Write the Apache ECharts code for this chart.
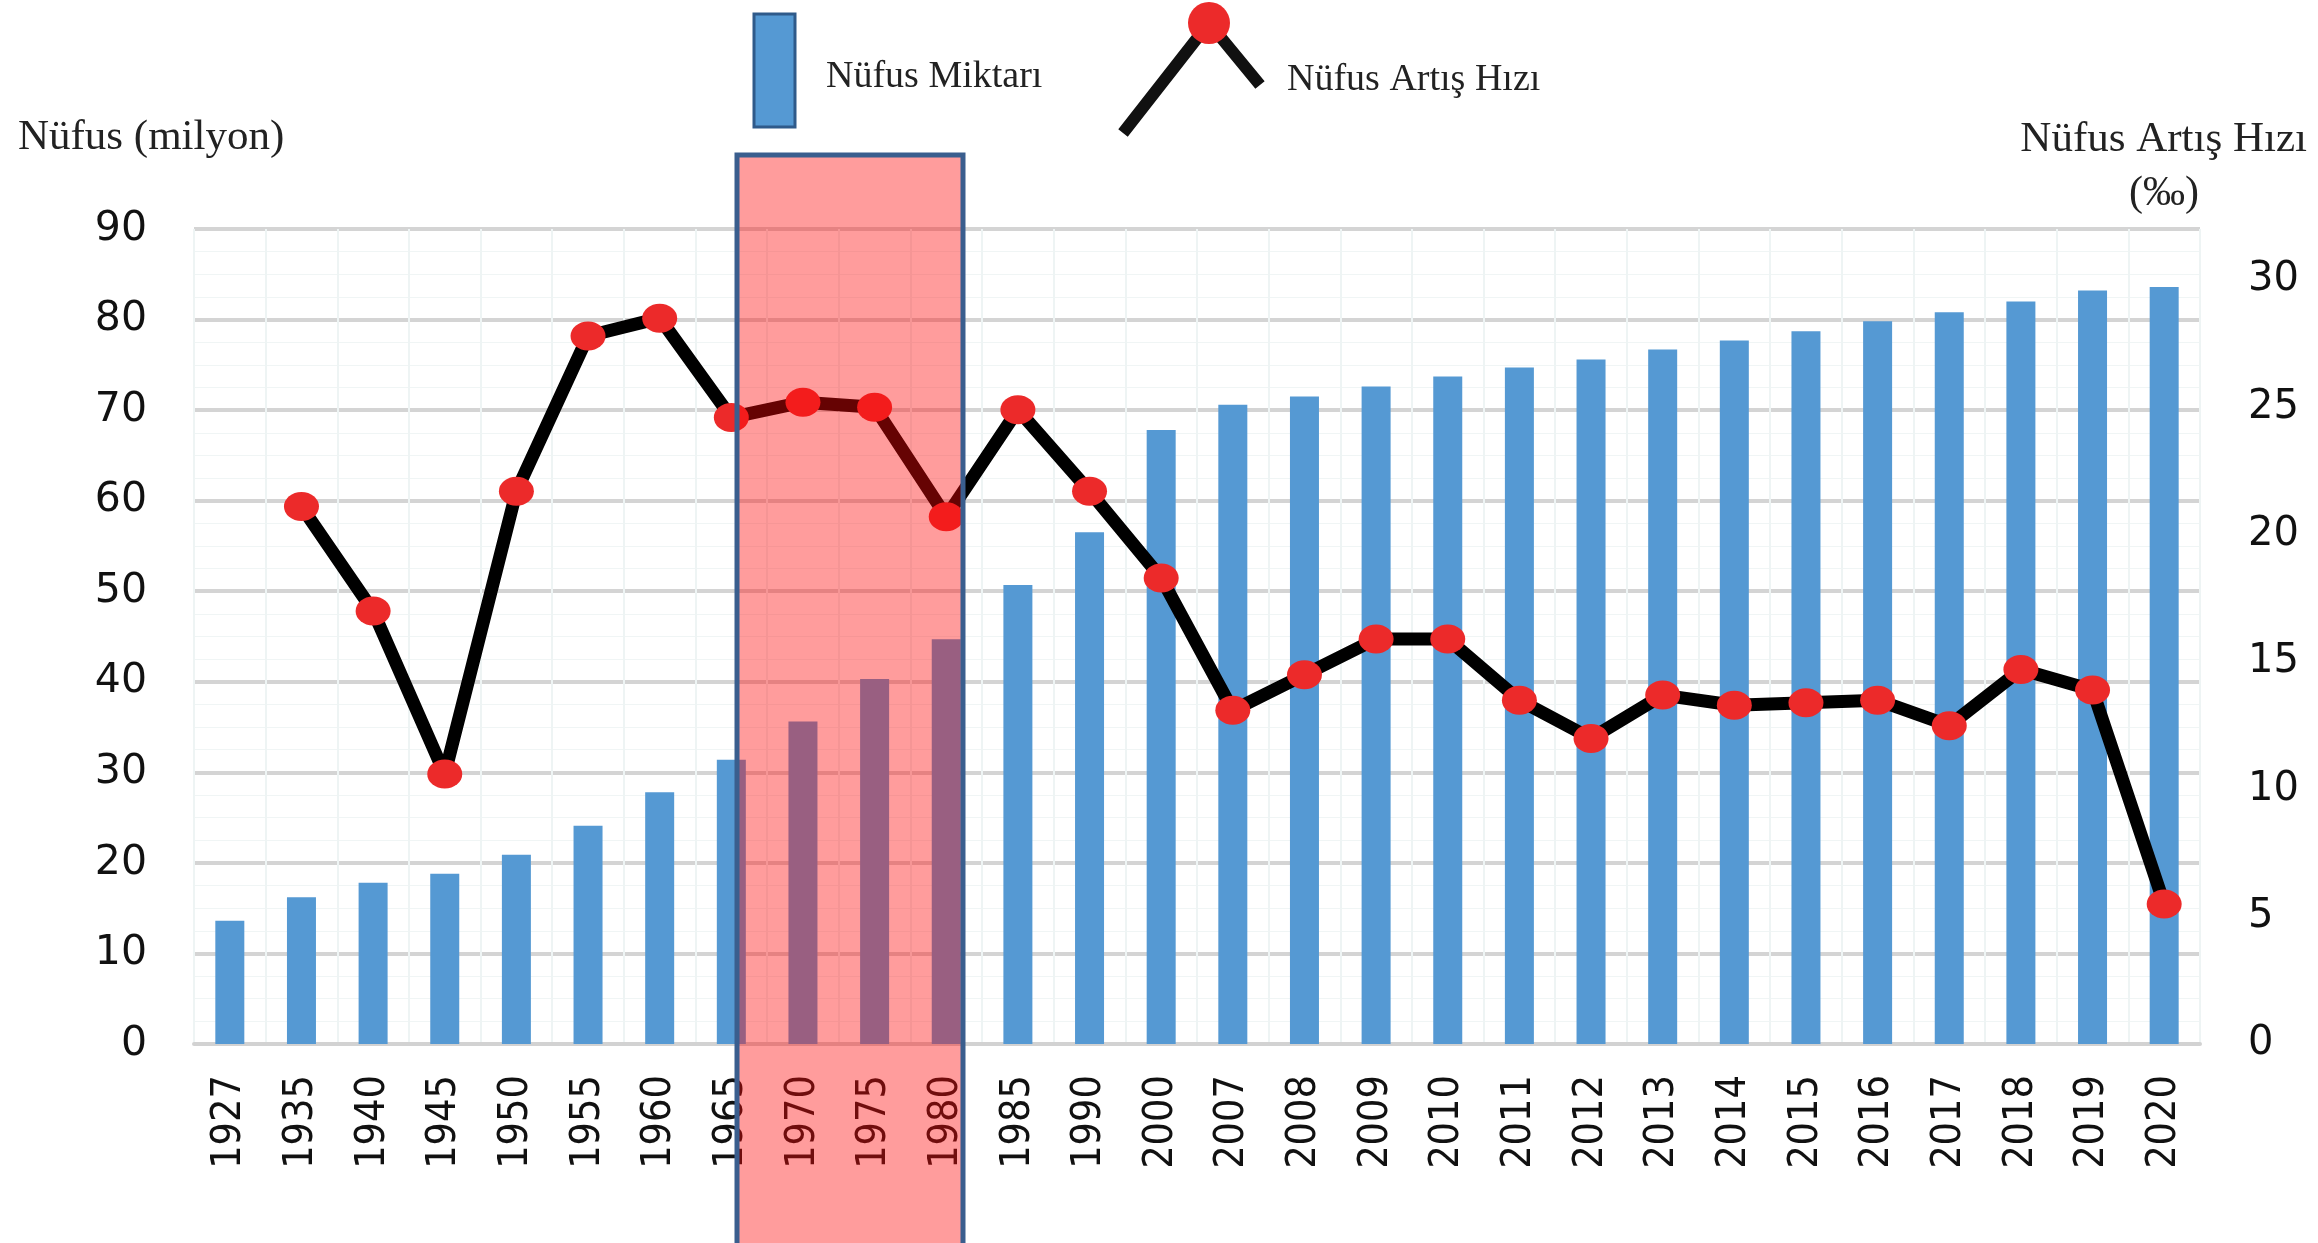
<!DOCTYPE html>
<html>
<head>
<meta charset="utf-8">
<script src="https://cdn.jsdelivr.net/npm/echarts@6/dist/echarts.min.js"></script>
<style>
  html, body { margin: 0; padding: 0; background: #fff; }
  #main { width: 2318px; height: 1243px; }
</style>
</head>
<body>
<div id="main"></div>
<script>
var myChart = echarts.init(document.getElementById('main'));

// yillar
const years = ['1927', '1935', '1940', '1945', '1950', '1955', '1960', '1965', '1970', '1975',
  '1980', '1985', '1990', '2000', '2007', '2008', '2009', '2010', '2011', '2012', '2013',
  '2014', '2015', '2016', '2017', '2018', '2019', '2020']
// nufus miktari (milyon)
const population = [13.6, 16.2, 17.8, 18.8, 20.9, 24.1, 27.8, 31.4, 35.6, 40.3,
  44.7, 50.7, 56.5, 67.8, 70.6, 71.5, 72.6, 73.7, 74.7, 75.6, 76.7,
  77.7, 78.7, 79.8, 80.8, 82.0, 83.2, 83.6]
// nufus artis hizi (binde)
const growthRate = [null, 21.1, 17.0, 10.6, 21.7, 27.8, 28.5, 24.6, 25.2, 25.0,
  20.7, 24.9, 21.7, 18.3, 13.1, 14.5, 15.9, 15.9, 13.5, 12.0, 13.7,
  13.3, 13.4, 13.5, 12.5, 14.7, 13.9, 5.5]

const serif = "'Liberation Serif', 'DejaVu Serif', serif"
const sans = "'DejaVu Sans', Verdana, sans-serif"
const narrow = "'DejaVu Sans Condensed', 'Liberation Sans Narrow', 'DejaVu Sans', sans-serif"

var option = {
    animation: false,
    backgroundColor: '#ffffff',
    grid: { left: 194, right: 118, top: 229, bottom: 199 },
    xAxis: {
        type: 'category',
        data: years,
        boundaryGap: true,
        axisLine: { lineStyle: { color: '#d2d2d2', width: 4 } },
        axisTick: { show: false },
        splitLine: { show: true, lineStyle: { color: '#eef4f4', width: 2 } },
        axisLabel: {
            rotate: 90, margin: 31, interval: 0,
            fontSize: 41, fontFamily: narrow, color: '#111'
        }
    },
    yAxis: [
        {
            type: 'value', min: 0, max: 90, interval: 10,
            axisLine: { show: false }, axisTick: { show: false },
            splitLine: { lineStyle: { color: '#d4d4d4', width: 4 } },
            minorTick: { show: false, splitNumber: 4 },
            minorSplitLine: { show: true, lineStyle: { color: '#f0f5f5', width: 1 } },
            axisLabel: { fontSize: 41, fontFamily: sans, color: '#111', margin: 47 }
        },
        {
            type: 'value', min: 0, max: 32, interval: 5,
            axisLine: { show: false }, axisTick: { show: false },
            splitLine: { show: false },
            axisLabel: {
                fontSize: 40, fontFamily: sans, color: '#111', margin: 48,
                showMaxLabel: false,
                formatter: function (v) { return v % 5 === 0 ? String(v) : '' }
            }
        }
    ],
    series: [
        {
            name: 'Nüfus Miktarı',
            type: 'bar',
            data: population,
            barWidth: 29,
            itemStyle: { color: '#5599d3' }
        },
        {
            name: 'Nüfus Artış Hızı',
            type: 'line',
            yAxisIndex: 1,
            data: growthRate,
            connectNulls: false,
            lineStyle: { color: '#000', width: 13 },
            symbol: 'circle',
            symbolSize: [35, 29],
            itemStyle: { color: '#ec2a2a', borderWidth: 0 },
            z: 5
        }
    ],
    graphic: [
        // eksen basliklari
        { type: 'text', left: 18, top: 116,
          style: { text: 'Nüfus (milyon)', font: '43px ' + serif, fill: '#222' } },
        { type: 'text', x: 2307, y: 140,
          style: { text: 'Nüfus Artış Hızı', font: '43px ' + serif, fill: '#222',
                   textAlign: 'right', textVerticalAlign: 'middle' } },
        { type: 'text', x: 2164, y: 194,
          style: { text: '(‰)', font: '42px ' + serif, fill: '#222',
                   textAlign: 'center', textVerticalAlign: 'middle' } },
        // lejant
        { type: 'rect', shape: { x: 754, y: 14, width: 41, height: 113 },
          style: { fill: '#5599d3', stroke: '#2f5a8a', lineWidth: 3 } },
        { type: 'text', x: 826, y: 77,
          style: { text: 'Nüfus Miktarı', font: '38px ' + serif, fill: '#222',
                   textVerticalAlign: 'middle' } },
        { type: 'polyline', shape: { points: [[1123, 133], [1209, 23], [1260, 85]] },
          style: { stroke: '#111', lineWidth: 12, fill: null } },
        { type: 'circle', shape: { cx: 1209, cy: 23, r: 21 },
          style: { fill: '#ec2a2a' } },
        { type: 'text', x: 1287, y: 80,
          style: { text: 'Nüfus Artış Hızı', font: '38px ' + serif, fill: '#222',
                   textVerticalAlign: 'middle' } },
        // 1965-1980 vurgu kutusu
        { type: 'rect', z: 100, shape: { x: 737, y: 155, width: 226, height: 1100 },
          style: { fill: 'rgba(255,8,8,0.4)', stroke: '#3a5e8e', lineWidth: 5 } }
    ]
};
myChart.setOption(option);
</script>
</body>
</html>
